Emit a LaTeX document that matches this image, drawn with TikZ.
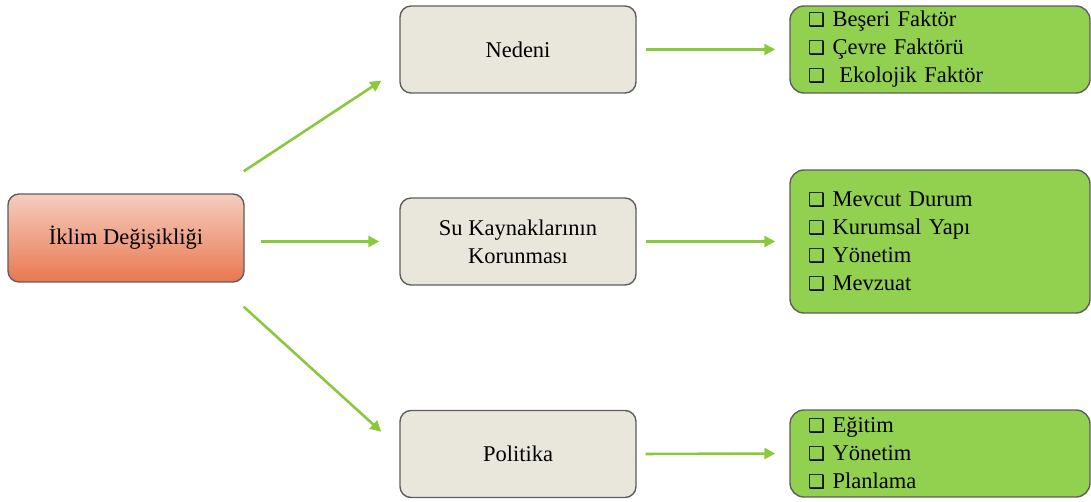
\documentclass[tikz,border=0pt]{standalone}
\usepackage{fontspec}
\setmainfont{Liberation Serif}
\newfontfamily\kutufont{DejaVu Sans}
\usepackage{tikz}
\usetikzlibrary{arrows.meta,calc}
\definecolor{IkTop}{HTML}{F6CEC0}
\definecolor{IkBot}{HTML}{E8774F}
\definecolor{AraFill}{HTML}{E9E7DC}
\definecolor{ListFill}{HTML}{92D050}
\definecolor{OkGreen}{HTML}{8CC83C}
\definecolor{BoxEdge}{HTML}{5E5E5E}
\newcommand{\kutu}{{\kutufont\bfseries\fontsize{19}{19}\selectfont ❑}}

\begin{document}
\begin{tikzpicture}[
  x=1pt,y=1pt,font=\fontsize{22.5}{28}\selectfont,
  ok/.style={-{Triangle[length=11pt,width=11pt]},draw=OkGreen,line width=2.6pt},
  root/.style={draw=BoxEdge,line width=1.4pt,rounded corners=11pt,top color=IkTop,bottom color=IkBot,minimum width=236,minimum height=88},
  topic/.style={draw=BoxEdge,line width=1.4pt,rounded corners=11pt,fill=AraFill,minimum width=236,minimum height=87,align=center},
  list/.style={draw=BoxEdge,line width=1.4pt,rounded corners=14pt,fill=ListFill,minimum width=300,text width=264,inner xsep=18,align=left}
]
\useasboundingbox (0,0) rectangle (1091,501);

% Root.
\node[root] (ik) at (126,263) {İklim Değişikliği};

% Topics.
\node[topic] (n1) at (518,451.5) {Nedeni};
\node[topic] (n2) at (518,259.5) {Su Kaynaklarının\\Korunması};
\node[topic] (n3) at (518,47) {Politika};

% Lists.
\node[list,minimum height=87] (l1) at (940,451.5) {\kutu{} Beşeri Faktör\\\kutu{} Çevre Faktörü\\\kutu{}\hspace{0.3em} Ekolojik Faktör};
\node[list,minimum height=143] (l2) at (940,259.5) {\kutu{} Mevcut Durum\\\kutu{} Kurumsal Yapı\\\kutu{} Yönetim\\\kutu{} Mevzuat};
\node[list,minimum height=87] (l3) at (940,47.5) {\kutu{} Eğitim\\\kutu{} Yönetim\\\kutu{} Planlama};

% Arrows.
\draw[ok] ([shift={(-1,22)}]ik.north east) -- ([shift={(-18,13)}]n1.south west);
\draw[ok] ([xshift=16]ik.east |- n2.west) -- ([xshift=-20]n2.west);
\draw[ok] ([shift={(-1,-24)}]ik.south east) -- ([shift={(-18,-22)}]n3.north west);
\draw[ok,shorten <=9pt,shorten >=14pt] (n1.east) -- (l1.west);
\draw[ok,shorten <=9pt,shorten >=14pt] (n2.east) -- (l2.west);
\draw[ok,shorten <=9pt,shorten >=14pt] (n3.east) -- (l3.west);
\end{tikzpicture}
\end{document}
